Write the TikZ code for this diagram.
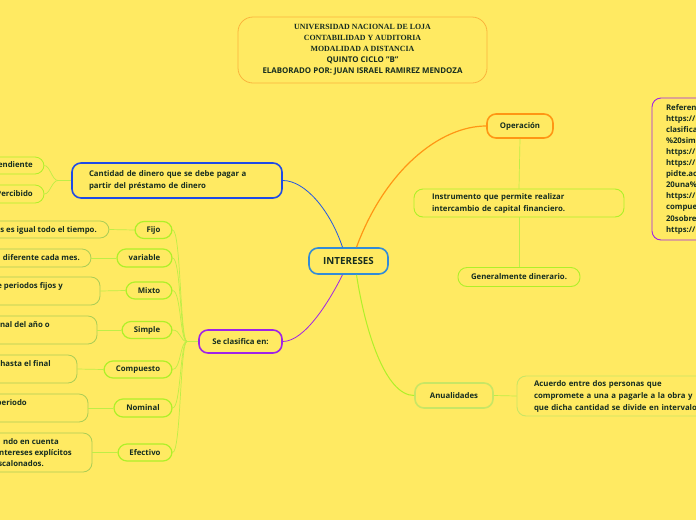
\documentclass[tikz,border=0pt]{standalone}
\usepackage{fontspec}
\setmainfont{Open Sans}
\newfontfamily\serf{Liberation Serif}
\definecolor{bg}{RGB}{255,234,98}
\definecolor{txt}{RGB}{22,45,32}
\definecolor{ttlor}{RGB}{250,180,60}
\definecolor{orng}{RGB}{255,150,20}
\definecolor{blu}{RGB}{30,75,230}
\definecolor{lblu}{RGB}{50,140,215}
\definecolor{purp}{RGB}{160,35,230}
\definecolor{lime}{RGB}{175,240,40}
\definecolor{limeline}{RGB}{190,238,70}
\definecolor{olive}{RGB}{170,205,85}
\definecolor{pale}{RGB}{200,230,100}
\newcommand\fs{\fontsize{7.8}{12}\selectfont\bfseries}
\begin{document}
\begin{tikzpicture}[x=1pt,y=-1pt,
  box/.style={draw, rounded corners=9pt, fill=bg, text=txt, font=\fs, inner sep=0pt},
  cat/.style={box, draw=lime, line width=1.2pt},
  leaf/.style={box, draw=olive, line width=0.8pt},
  lbl/.style={text=txt, font=\fs, inner sep=0pt},
  conn/.style={draw=limeline, line width=0.7pt}]
\useasboundingbox (0,0) rectangle (696,520);
\fill[bg] (0,0) rectangle (696,520);

% title
\node[box, draw=ttlor, line width=0.8pt, rounded corners=15pt, minimum width=249pt, minimum height=66pt, align=center, font=\fontsize{7.9}{11}\selectfont\bfseries] (title) at (362.5,50)
 {{\serf UNIVERSIDAD NACIONAL DE LOJA}\\{\serf CONTABILIDAD Y AUDITORIA}\\{\serf MODALIDAD A DISTANCIA}\\QUINTO CICLO "B"\\ELABORADO POR: JUAN ISRAEL RAMIREZ MENDOZA};

% central
\node[box, draw=lblu, line width=1.6pt, minimum width=79pt, minimum height=26pt, font=\fontsize{9.8}{11}\selectfont\bfseries] (int) at (348.5,261) {INTERESES};

% right side
\node[box, draw=orng, line width=1.6pt, minimum width=66pt, minimum height=24pt] (op) at (520,126) {Operación};
\node[box, draw=lime, line width=0.9pt, minimum width=210pt, minimum height=28pt, text width=174pt, inner xsep=18pt, align=left] (ins) at (519,203) {Instrumento que permite realizar\\intercambio de capital financiero.};
\node[box, draw=lime, line width=0.9pt, minimum width=122pt, minimum height=19pt] (gen) at (519,277) {Generalmente dinerario.};
\node[box, draw=purp, line width=0.9pt, minimum width=108pt, minimum height=142pt, text width=80pt, inner xsep=14pt, align=left, font=\fontsize{7.8}{11.1}\selectfont\bfseries] (ref) at (706,169)
 {Referen\\https://\\clasifica\\\%20sim\\https://\\https://\\pidte.ac\\20una\%\\https://\\compue\\20sobre\\https://};
\node[box, draw=pale, line width=1.6pt, minimum width=78pt, minimum height=25pt] (anu) at (454,395.5) {Anualidades};
\node[box, draw=pale, line width=0.9pt, minimum width=282pt, minimum height=40pt, text width=248pt, inner xsep=17pt, align=left] (acu) at (658,396)
 {Acuerdo entre dos personas que\\compromete a una a pagarle a la obra y\\que dicha cantidad se divide en intervalos};

% left side
\node[box, draw=blu, line width=1.6pt, minimum width=210pt, minimum height=35pt, text width=176pt, inner xsep=17pt, align=left] (cant) at (177,180.5) {Cantidad de dinero que se debe pagar a\\partir del préstamo de dinero};
\node[leaf, draw=lime, minimum width=104pt, minimum height=17pt] (lp1) at (-8,165.5) {};
\node[lbl, anchor=east] (tp1) at (33,165.5) {pendiente};
\node[leaf, draw=lime, minimum width=104pt, minimum height=18pt] (lp2) at (-8,194) {};
\node[lbl, anchor=east] (tp2) at (33,194) {Percibido};

\node[box, draw=purp, line width=1.6pt, minimum width=83pt, minimum height=23pt] (se) at (240.5,341.5) {Se clasifica en:};

\node[cat, minimum width=37pt, minimum height=17pt] (c1) at (153.5,230) {Fijo};
\node[cat, minimum width=55pt, minimum height=18pt] (c2) at (144.5,258) {variable};
\node[cat, minimum width=46pt, minimum height=17pt] (c3) at (149,290.5) {Mixto};
\node[cat, minimum width=50pt, minimum height=17pt] (c4) at (147,330) {Simple};
\node[cat, minimum width=68pt, minimum height=17pt] (c5) at (138,369.5) {Compuesto};
\node[cat, minimum width=58pt, minimum height=18pt] (c6) at (143,408) {Nominal};
\node[cat, minimum width=54pt, minimum height=17pt] (c7) at (145,452.5) {Efectivo};

\node[leaf, minimum width=169pt, minimum height=17pt] (l1) at (24.5,229.5) {};
\node[lbl, anchor=east] (t1) at (97,230) {s es igual todo el tiempo.};
\node[leaf, minimum width=151pt, minimum height=18pt] (l2) at (15.5,258) {};
\node[lbl, anchor=east] (t2) at (80,258) {diferente cada mes.};
\node[leaf, minimum width=160pt, minimum height=28pt] (l3) at (20,291) {};
\node[lbl, anchor=east] (t3) at (63,286) {e periodos fijos y};
\node[leaf, minimum width=157pt, minimum height=28pt] (l4) at (18.5,330) {};
\node[lbl, anchor=east] (t4) at (50,325) {nal del año o};
\node[leaf, minimum width=137pt, minimum height=28pt] (l5) at (8.5,369) {};
\node[lbl, anchor=east] (t5) at (51,364) {hasta el final};
\node[leaf, minimum width=148pt, minimum height=28pt] (l6) at (14,408) {};
\node[lbl, anchor=east] (t6) at (27,403) {periodo};
\node[leaf, minimum width=152pt, minimum height=39pt] (l7) at (16,452.5) {};
\node[lbl, anchor=east] (t7a) at (59,442) {ndo en cuenta};
\node[lbl, anchor=east] (t7b) at (72,453) {ntereses explícitos};
\node[lbl, anchor=east] (t7c) at (44,464) {scalonados.};

% connectors
\draw[orng, line width=1.2pt] ([xshift=8pt]int.north) .. controls (385,170) and (440,126) .. (op.west);
\draw[blu!80!lblu, line width=0.8pt] ([xshift=-6pt]int.north) .. controls (330,210) and (305,180.5) .. (cant.east);
\draw[purp, line width=0.8pt] ([xshift=-6pt]int.south) .. controls (330,300) and (305,341.5) .. (se.east);
\draw[lime, line width=1.0pt] ([xshift=8pt]int.south) .. controls (365,330) and (385,395.5) .. (anu.west);
\draw[conn] (op.south) -- (ins.north);
\draw[conn] (ins.south) -- (gen.north);
\draw[conn] (anu.east) -- (acu.west);

\coordinate (cb) at (58,180.5);
\draw[conn] (cant.west) -- (cb);
\draw[conn] (cb) .. controls (52,180.5) and (50,165.5) .. (lp1.east);
\draw[conn] (cb) .. controls (52,180.5) and (50,194) .. (lp2.east);

\coordinate (sb) at (187,341.5);
\draw[conn] (se.west) -- (sb);
\foreach \c in {c1,c2,c3,c4,c5,c6,c7}{
  \draw[conn] (sb) .. controls (180,341.5) and (181,0 |- \c.east) .. (\c.east);
}
\draw[conn] (c1.west) -- (l1.east);
\draw[conn] (c2.west) -- (l2.east);
\draw[conn] (c3.west) -- (l3.east);
\draw[conn] (c4.west) -- (l4.east);
\draw[conn] (c5.west) -- (l5.east);
\draw[conn] (c6.west) -- (l6.east);
\draw[conn] (c7.west) -- (l7.east);
\end{tikzpicture}
\end{document}
